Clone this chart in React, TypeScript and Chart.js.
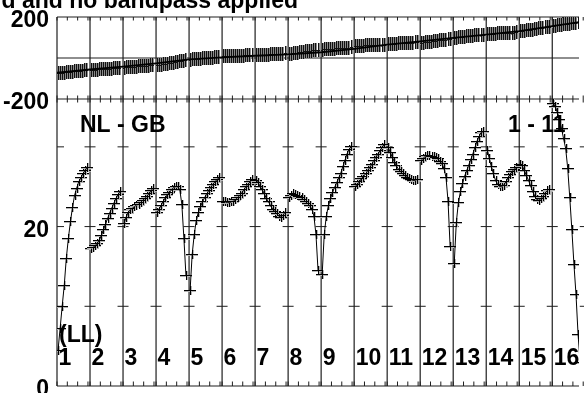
import React, { useEffect, useRef } from 'react';
import { Chart, registerables } from 'chart.js';

Chart.register(...registerables);

// ---- data -----------------------------------------------------------------
const TITLE = 'd and no bandpass applied';
const BASELINE_LABEL = 'NL - GB';
const ANTENNA_LABEL = '1 - 11';
const POL_LABEL = '(LL)';
const IF_LABELS = ['1', '2', '3', '4', '5', '6', '7', '8', '9', '10', '11', '12', '13', '14', '15', '16'];
const CHANNELS_PER_IF = 16;
const CHANNELS = [1, 2, 3, 4, 5, 6, 7, 8, 9, 10, 11, 12, 13, 14, 15];
const X_MAX = 252.96; // last IF is cut by the page edge
const PHASE_TICKS = [200, -200];
const PHASE_MIN = -1600;
const PHASE_MAX = 200;
const AMP_TICKS = [20, 0];
const AMP_MARKS = [10, 20, 30];
const AMP_MAX = 46.29;
const MINOR_TICK_CHANNELS = [0, 5, 10, 15];

// phase (degrees) per IF, one value per channel
const PHASE: number[][] = [
  [-74, -72, -71, -71, -69, -68, -68, -66, -65, -64, -64, -62, -61, -60, -59],
  [-60, -58, -58, -57, -56, -56, -55, -54, -53, -52, -52, -51, -50, -50, -49],
  [-47, -46, -46, -45, -44, -43, -42, -41, -41, -40, -39, -38, -37, -36, -35],
  [-35, -34, -32, -31, -29, -27, -25, -24, -22, -20, -19, -17, -15, -14, -12],
  [-8, -7, -6, -5, -4, -3, -2, -1, 0, 1, 2, 2, 3, 4, 5],
  [8, 8, 9, 9, 10, 10, 10, 11, 11, 12, 12, 13, 13, 14, 14],
  [14, 14, 15, 16, 16, 17, 17, 18, 19, 19, 20, 20, 21, 21, 22],
  [19, 21, 22, 24, 25, 27, 28, 30, 32, 33, 35, 36, 38, 40, 41],
  [41, 42, 43, 44, 44, 45, 46, 47, 48, 48, 49, 50, 51, 51, 52],
  [59, 59, 60, 60, 60, 61, 61, 61, 61, 62, 62, 62, 63, 63, 63],
  [68, 68, 69, 70, 70, 71, 72, 72, 73, 73, 74, 74, 75, 76, 76],
  [73, 75, 76, 78, 79, 80, 82, 83, 85, 86, 88, 89, 90, 92, 93],
  [99, 100, 101, 102, 103, 104, 105, 106, 107, 108, 110, 111, 112, 113, 114],
  [117, 118, 118, 119, 119, 120, 120, 121, 122, 122, 123, 123, 124, 124, 125],
  [130, 132, 133, 135, 136, 138, 139, 141, 142, 144, 145, 147, 149, 150, 152],
  [157, 158, 160, 161, 163, 164, 165, 167, 168, 170, 171, 173, 174, 176, 177],
];

// phase model at IF boundaries
const PHASE_MODEL = [-72, -56, -42, -26, -7, 3, 11, 18, 28, 45, 65, 81, 98, 114, 131, 155, 180];

// amplitude per IF, one value per channel
const AMP: number[][] = [
  [4.5, 7.2, 10.0, 12.6, 16.0, 18.5, 20.6, 22.4, 23.9, 24.8, 25.6, 26.1, 26.6, 27.0, 27.4],
  [17.3, 17.4, 17.6, 17.9, 18.3, 18.9, 19.6, 20.3, 21.0, 21.7, 22.3, 22.9, 23.5, 24.0, 24.4],
  [20.4, 21.2, 21.8, 22.1, 22.3, 22.5, 22.7, 22.8, 23.0, 23.3, 23.5, 23.8, 24.1, 24.5, 24.8],
  [21.8, 22.2, 22.7, 23.2, 23.6, 24.0, 24.3, 24.6, 24.9, 25.0, 25.0, 24.6, 22.8, 18.5, 13.8],
  [12.0, 16.5, 19.0, 20.8, 21.8, 22.5, 23.1, 23.6, 24.1, 24.5, 24.9, 25.3, 25.6, 25.9, 26.1],
  [23.2, 23.1, 23.0, 23.0, 23.1, 23.2, 23.4, 23.6, 23.9, 24.2, 24.6, 25.0, 25.3, 25.6, 25.9],
  [25.8, 25.5, 25.0, 24.6, 24.1, 23.5, 23.1, 22.6, 22.2, 21.9, 21.6, 21.3, 21.2, 21.4, 21.8],
  [23.6, 23.9, 24.1, 24.0, 23.9, 23.8, 23.6, 23.4, 23.1, 22.9, 22.6, 22.2, 21.3, 19.0, 14.5],
  [14.0, 19.0, 21.3, 22.6, 23.5, 24.3, 24.9, 25.5, 26.1, 26.7, 27.5, 28.3, 29.1, 29.7, 30.0],
  [25.0, 25.3, 25.6, 26.0, 26.3, 26.6, 27.0, 27.4, 27.8, 28.3, 28.7, 29.1, 29.5, 29.9, 30.3],
  [29.9, 29.3, 28.7, 28.1, 27.6, 27.2, 26.9, 26.6, 26.4, 26.2, 26.0, 25.9, 25.8, 25.8, 25.9],
  [28.3, 28.6, 28.8, 28.9, 28.9, 28.8, 28.8, 28.7, 28.5, 28.2, 27.9, 27.3, 26.2, 23.2, 17.5],
  [15.4, 20.5, 23.0, 24.4, 25.4, 26.3, 27.0, 27.7, 28.4, 29.1, 29.9, 30.7, 31.3, 31.8, 31.9],
  [29.6, 28.5, 27.5, 26.6, 25.8, 25.3, 25.0, 25.0, 25.2, 25.6, 26.1, 26.5, 26.9, 27.2, 27.4],
  [27.8, 27.6, 27.0, 26.4, 25.8, 25.1, 24.4, 23.8, 23.4, 23.3, 23.5, 23.8, 24.2, 24.5, 24.7],
  [35.5, 35.0, 34.3, 33.4, 32.3, 31.0, 29.8, 27.3, 23.6, 19.6, 15.3, 11.5, 6.5, 3.0, 1.0],
];

const FONT = 'bold 23px "Liberation Sans", Arial, Helvetica, sans-serif';

function makeCross(w: number, h: number, dark: string, soft: string): HTMLCanvasElement {
  const c = document.createElement('canvas');
  c.width = w;
  c.height = h;
  const g = c.getContext('2d')!;
  const cx = Math.floor(w / 2);
  const cy = Math.floor(h / 2);
  g.fillStyle = soft;
  g.fillRect(cx + 1, 0, 1, h);
  g.fillRect(0, cy + 1, w, 1);
  g.fillStyle = dark;
  g.fillRect(cx, 0, 1, h);
  g.fillRect(0, cy, w, 1);
  return c;
}

const chanX = (ifIndex: number, ch: number) => ifIndex * CHANNELS_PER_IF + ch - 0.5;

const gridPlugin = {
  id: 'aipsGrid',
  beforeDatasetsDraw(chart: any) {
    const { ctx, chartArea: a, scales } = chart;
    const xs = scales.x, yP = scales.yPh, yA = scales.yAmp;
    const top = yP.getPixelForValue(PHASE_MAX);
    const mid = yP.getPixelForValue(0);
    const sep = yP.getPixelForValue(-200);
    const bot = yA.getPixelForValue(0);
    ctx.save();
    ctx.strokeStyle = '#1e1e1e';
    ctx.lineWidth = 1.2;
    const line = (x1: number, y1: number, x2: number, y2: number) => {
      ctx.beginPath();
      ctx.moveTo(x1, y1);
      ctx.lineTo(x2, y2);
      ctx.stroke();
    };
    [top, mid, sep, bot].forEach((y) => line(a.left, y, a.right, y));
    for (let k = 0; k <= IF_LABELS.length; k++) {
      const px = xs.getPixelForValue(k * CHANNELS_PER_IF);
      line(px, top, px, bot);
    }
    ctx.lineWidth = 1;
    for (let k = 0; k < IF_LABELS.length; k++) {
      MINOR_TICK_CHANNELS.forEach((c) => {
        const px = xs.getPixelForValue(k * CHANNELS_PER_IF + c);
        line(px, top, px, top + 3.5);
        line(px, sep - 3.5, px, sep + 3.5);
        line(px, bot - 4.5, px, bot);
      });
    }
    for (let k = 0; k <= IF_LABELS.length; k++) {
      const px = xs.getPixelForValue(k * CHANNELS_PER_IF);
      AMP_MARKS.forEach((v) => {
        const py = yA.getPixelForValue(v);
        if (k === 0) line(px, py, px + 7, py);
        else line(px - 5.5, py, px + 5.5, py);
      });
    }
    ctx.restore();
    ctx.imageSmoothingEnabled = false;
  },
  afterDraw(chart: any) {
    const { ctx, chartArea: a, scales } = chart;
    ctx.imageSmoothingEnabled = true;
    const xs = scales.x, yP = scales.yPh, yA = scales.yAmp;
    const sep = yP.getPixelForValue(-200);
    const bot = yA.getPixelForValue(0);
    ctx.save();
    ctx.fillStyle = '#000';
    ctx.font = FONT;
    ctx.textBaseline = 'alphabetic';
    ctx.textAlign = 'right';
    PHASE_TICKS.forEach((v) => ctx.fillText(String(v), a.left - 8, yP.getPixelForValue(v) + 10));
    AMP_TICKS.forEach((v) => ctx.fillText(String(v), a.left - 8, yA.getPixelForValue(v) + 10));
    ctx.fillText(TITLE, 298, 8);
    ctx.textAlign = 'left';
    ctx.fillText(BASELINE_LABEL, a.left + 23, sep + 33);
    ctx.fillText(ANTENNA_LABEL, 508, sep + 33);
    ctx.fillText(POL_LABEL, a.left + 2, bot - 44);
    IF_LABELS.forEach((lab, k) => {
      ctx.fillText(lab, xs.getPixelForValue(k * CHANNELS_PER_IF) + 1.5, bot - 21);
    });
    ctx.restore();
  },
};

export default function App() {
  const ref = useRef<HTMLCanvasElement>(null);
  useEffect(() => {
    const canvas = ref.current;
    if (!canvas) return;
    const phaseMark = makeCross(3, 14, '#111', '#8a8a8a');
    const ampMark = makeCross(12, 9, '#000', '#b5b5b5');

    const phasePts: any[] = [];
    PHASE.forEach((seg, i) => seg.forEach((v, j) => phasePts.push({ x: chanX(i, CHANNELS[j]), y: v })));
    const ampPts: any[] = [];
    const ampLine: any[] = [];
    AMP.forEach((seg, i) => {
      seg.forEach((v, j) => {
        const p = { x: chanX(i, CHANNELS[j]), y: v };
        ampPts.push(p);
        ampLine.push(p);
      });
      ampLine.push({ x: (i + 1) * CHANNELS_PER_IF - 0.2, y: null });
    });
    const model = PHASE_MODEL.map((v, k) => ({ x: k * CHANNELS_PER_IF, y: v }));

    const chart = new Chart(canvas, {
      type: 'line',
      data: {
        datasets: [
          {
            data: model,
            yAxisID: 'yPh',
            borderColor: '#000',
            borderWidth: 1.8,
            pointRadius: 0,
            tension: 0,
          },
          {
            data: ampLine,
            yAxisID: 'yAmp',
            borderColor: '#000',
            borderWidth: 1,
            pointRadius: 0,
            spanGaps: false,
            tension: 0,
          },
          {
            data: phasePts,
            yAxisID: 'yPh',
            showLine: false,
            pointStyle: phaseMark as any,
            pointRadius: 3,
          },
          {
            data: ampPts,
            yAxisID: 'yAmp',
            showLine: false,
            pointStyle: ampMark as any,
            pointRadius: 3,
          },
        ],
      },
      options: {
        responsive: false,
        maintainAspectRatio: false,
        devicePixelRatio: 1,
        animation: false,
        events: [],
        layout: { padding: { left: 57, top: 17, right: 0, bottom: 7 } },
        plugins: { legend: { display: false }, tooltip: { enabled: false } },
        scales: {
          x: { type: 'linear', display: false, min: 0, max: X_MAX },
          yPh: { type: 'linear', display: false, min: PHASE_MIN, max: PHASE_MAX, position: 'left' },
          yAmp: { type: 'linear', display: false, min: 0, max: AMP_MAX, position: 'left' },
        },
      },
      plugins: [gridPlugin],
    } as any);
    return () => chart.destroy();
  }, []);

  return (
    <div style={{ position: 'fixed', left: 0, top: 0, width: 584, height: 393, background: '#fff' }}>
      <canvas ref={ref} width={584} height={393} style={{ display: 'block' }} />
    </div>
  );
}
